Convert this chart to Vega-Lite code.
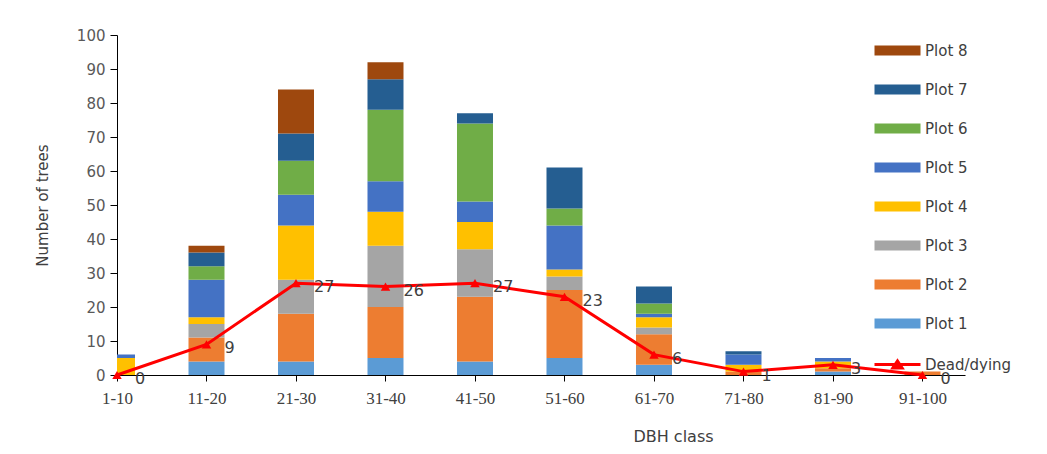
{
  "$schema": "https://vega.github.io/schema/vega-lite/v6.json",
  "width": 848,
  "height": 340,
  "autosize": {"type": "none"},
  "padding": {"left": 117, "top": 35, "right": 82, "bottom": 79},
  "background": "white",
  "config": {
    "view": {"stroke": null},
    "axis": {"grid": false, "domainColor": "#000000", "tickColor": "#000000", "labelColor": "#595959", "titleColor": "#404040", "titleFontWeight": "normal", "labelOverlap": false},
    "axisY": {"labelOverlap": false, "labelSeparation": 0}
  },
  "datasets": {
    "bars": [
      {"dbh": "1-10", "plot": "Plot 4", "plotNum": 4, "trees": 5},
      {"dbh": "1-10", "plot": "Plot 5", "plotNum": 5, "trees": 1},
      {"dbh": "11-20", "plot": "Plot 1", "plotNum": 1, "trees": 4},
      {"dbh": "11-20", "plot": "Plot 2", "plotNum": 2, "trees": 7},
      {"dbh": "11-20", "plot": "Plot 3", "plotNum": 3, "trees": 4},
      {"dbh": "11-20", "plot": "Plot 4", "plotNum": 4, "trees": 2},
      {"dbh": "11-20", "plot": "Plot 5", "plotNum": 5, "trees": 11},
      {"dbh": "11-20", "plot": "Plot 6", "plotNum": 6, "trees": 4},
      {"dbh": "11-20", "plot": "Plot 7", "plotNum": 7, "trees": 4},
      {"dbh": "11-20", "plot": "Plot 8", "plotNum": 8, "trees": 2},
      {"dbh": "21-30", "plot": "Plot 1", "plotNum": 1, "trees": 4},
      {"dbh": "21-30", "plot": "Plot 2", "plotNum": 2, "trees": 14},
      {"dbh": "21-30", "plot": "Plot 3", "plotNum": 3, "trees": 10},
      {"dbh": "21-30", "plot": "Plot 4", "plotNum": 4, "trees": 16},
      {"dbh": "21-30", "plot": "Plot 5", "plotNum": 5, "trees": 9},
      {"dbh": "21-30", "plot": "Plot 6", "plotNum": 6, "trees": 10},
      {"dbh": "21-30", "plot": "Plot 7", "plotNum": 7, "trees": 8},
      {"dbh": "21-30", "plot": "Plot 8", "plotNum": 8, "trees": 13},
      {"dbh": "31-40", "plot": "Plot 1", "plotNum": 1, "trees": 5},
      {"dbh": "31-40", "plot": "Plot 2", "plotNum": 2, "trees": 15},
      {"dbh": "31-40", "plot": "Plot 3", "plotNum": 3, "trees": 18},
      {"dbh": "31-40", "plot": "Plot 4", "plotNum": 4, "trees": 10},
      {"dbh": "31-40", "plot": "Plot 5", "plotNum": 5, "trees": 9},
      {"dbh": "31-40", "plot": "Plot 6", "plotNum": 6, "trees": 21},
      {"dbh": "31-40", "plot": "Plot 7", "plotNum": 7, "trees": 9},
      {"dbh": "31-40", "plot": "Plot 8", "plotNum": 8, "trees": 5},
      {"dbh": "41-50", "plot": "Plot 1", "plotNum": 1, "trees": 4},
      {"dbh": "41-50", "plot": "Plot 2", "plotNum": 2, "trees": 19},
      {"dbh": "41-50", "plot": "Plot 3", "plotNum": 3, "trees": 14},
      {"dbh": "41-50", "plot": "Plot 4", "plotNum": 4, "trees": 8},
      {"dbh": "41-50", "plot": "Plot 5", "plotNum": 5, "trees": 6},
      {"dbh": "41-50", "plot": "Plot 6", "plotNum": 6, "trees": 23},
      {"dbh": "41-50", "plot": "Plot 7", "plotNum": 7, "trees": 3},
      {"dbh": "51-60", "plot": "Plot 1", "plotNum": 1, "trees": 5},
      {"dbh": "51-60", "plot": "Plot 2", "plotNum": 2, "trees": 20},
      {"dbh": "51-60", "plot": "Plot 3", "plotNum": 3, "trees": 4},
      {"dbh": "51-60", "plot": "Plot 4", "plotNum": 4, "trees": 2},
      {"dbh": "51-60", "plot": "Plot 5", "plotNum": 5, "trees": 13},
      {"dbh": "51-60", "plot": "Plot 6", "plotNum": 6, "trees": 5},
      {"dbh": "51-60", "plot": "Plot 7", "plotNum": 7, "trees": 12},
      {"dbh": "61-70", "plot": "Plot 1", "plotNum": 1, "trees": 3},
      {"dbh": "61-70", "plot": "Plot 2", "plotNum": 2, "trees": 9},
      {"dbh": "61-70", "plot": "Plot 3", "plotNum": 3, "trees": 2},
      {"dbh": "61-70", "plot": "Plot 4", "plotNum": 4, "trees": 3},
      {"dbh": "61-70", "plot": "Plot 5", "plotNum": 5, "trees": 1},
      {"dbh": "61-70", "plot": "Plot 6", "plotNum": 6, "trees": 3},
      {"dbh": "61-70", "plot": "Plot 7", "plotNum": 7, "trees": 5},
      {"dbh": "71-80", "plot": "Plot 2", "plotNum": 2, "trees": 1},
      {"dbh": "71-80", "plot": "Plot 4", "plotNum": 4, "trees": 2},
      {"dbh": "71-80", "plot": "Plot 5", "plotNum": 5, "trees": 3},
      {"dbh": "71-80", "plot": "Plot 7", "plotNum": 7, "trees": 1},
      {"dbh": "81-90", "plot": "Plot 1", "plotNum": 1, "trees": 1},
      {"dbh": "81-90", "plot": "Plot 2", "plotNum": 2, "trees": 1},
      {"dbh": "81-90", "plot": "Plot 4", "plotNum": 4, "trees": 2},
      {"dbh": "81-90", "plot": "Plot 5", "plotNum": 5, "trees": 1},
      {"dbh": "91-100", "plot": "Plot 2", "plotNum": 2, "trees": 1}
    ],
    "dead": [
      {"dbh": "1-10", "trees": 0},
      {"dbh": "11-20", "trees": 9},
      {"dbh": "21-30", "trees": 27},
      {"dbh": "31-40", "trees": 26},
      {"dbh": "41-50", "trees": 27},
      {"dbh": "51-60", "trees": 23},
      {"dbh": "61-70", "trees": 6},
      {"dbh": "71-80", "trees": 1},
      {"dbh": "81-90", "trees": 3},
      {"dbh": "91-100", "trees": 0}
    ]
  },
  "encoding": {
    "x": {
      "field": "dbh",
      "type": "ordinal",
      "sort": ["1-10", "11-20", "21-30", "31-40", "41-50", "51-60", "61-70", "71-80", "81-90", "91-100"],
      "scale": {"type": "point", "padding": 0.2375, "align": 0},
      "axis": {
        "title": "DBH class",
        "labelAngle": 0,
        "labelFont": "Liberation Serif",
        "labelFontSize": 17,
        "labelColor": "#404040",
        "labelPadding": 9,
        "tickSize": 6,
        "titleFont": "DejaVu Sans",
        "titleFontSize": 16,
        "titleX": 556,
        "titleY": 61,
        "titleBaseline": "middle"
      }
    },
    "y": {
      "field": "trees",
      "type": "quantitative",
      "aggregate": "sum",
      "scale": {"domain": [0, 100], "nice": false},
      "axis": {
        "title": "Number of trees",
        "values": [0, 10, 20, 30, 40, 50, 60, 70, 80, 90, 100],
        "labelOverlap": false,
        "labelFont": "DejaVu Sans",
        "labelFontSize": 15,
        "labelPadding": 5,
        "tickSize": 7,
        "titleFont": "DejaVu Sans",
        "titleFontSize": 15,
        "titleX": -75,
        "titleY": 170,
        "titleAngle": -90,
        "titleBaseline": "middle",
        "titleAlign": "center"
      }
    }
  },
  "layer": [
    {
      "data": {"name": "bars"},
      "mark": {"type": "bar", "width": 36, "clip": true},
      "encoding": {
        "color": {
          "field": "plot",
          "type": "nominal",
          "scale": {
            "domain": ["Plot 8", "Plot 7", "Plot 6", "Plot 5", "Plot 4", "Plot 3", "Plot 2", "Plot 1", "Dead/dying"],
            "range": ["#9E480E", "#255E91", "#70AD47", "#4472C4", "#FFC000", "#A5A5A5", "#ED7D31", "#5B9BD5", "#FF0000"]
          },
          "legend": {
            "title": null,
            "orient": "none",
            "legendX": 773,
            "legendY": 8,
            "padding": 0,
            "symbolSize": 529,
            "symbolType": "M-2,-0.44H2V0.44H-2Z",
            "labelFont": "DejaVu Sans",
            "labelFontSize": 15,
            "labelColor": "#404040",
            "labelOffset": 20,
            "rowPadding": 23,
            "encode": {
              "symbols": {
                "update": {
                  "shape": {"signal": "datum.value === 'Dead/dying' ? 'M-2,0H2M-0.4,0.3L0,-0.3L0.4,0.3Z' : 'M-2,-0.44H2V0.44H-2Z'"},
                  "fill": {"signal": "scale('color', datum.value)"},
                  "stroke": {"signal": "scale('color', datum.value)"},
                  "strokeWidth": {"signal": "datum.value === 'Dead/dying' ? 3 : 0"},
                  "opacity": {"value": 1},
                  "fillOpacity": {"value": 1},
                  "strokeOpacity": {"value": 1}
                }
              }
            }
          }
        },
        "order": {"field": "plotNum", "type": "quantitative", "aggregate": "min"}
      }
    },
    {
      "data": {"name": "dead"},
      "mark": {"type": "line", "color": "#FF0000", "strokeWidth": 3},
      "encoding": {
        "color": {"datum": "Dead/dying"}
      }
    },
    {
      "data": {"name": "dead"},
      "mark": {"type": "point", "shape": "triangle-up", "filled": true, "size": 90, "color": "#FF0000", "opacity": 1}
    },
    {
      "data": {"name": "dead"},
      "mark": {"type": "text", "align": "left", "baseline": "middle", "dx": 18, "dy": 4, "font": "DejaVu Sans", "fontSize": 16, "color": "#404040"},
      "encoding": {
        "text": {"field": "trees", "type": "quantitative", "aggregate": "sum"}
      }
    }
  ]
}
